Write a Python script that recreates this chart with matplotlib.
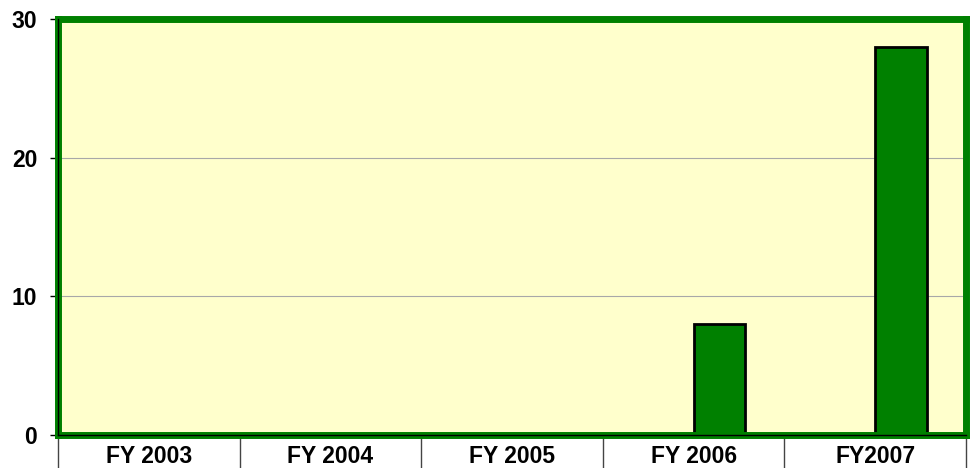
import matplotlib.pyplot as plt
from matplotlib.lines import Line2D

# categories and values
years = ["FY 2003", "FY 2004", "FY 2005", "FY 2006", "FY2007"]
series_a = [0, 0, 0, 0, 0]      # first series (empty)
series_b = [0, 0, 0, 8, 28]     # second series

plt.rcParams['font.family'] = ['Liberation Sans', 'DejaVu Sans']

fig = plt.figure(figsize=(9.71, 4.68), dpi=100)
ax = fig.add_axes([58 / 971, 1 - 435 / 468, (966 - 58) / 971, (435 - 19) / 468])
ax.set_facecolor('#FFFFCC')

# clustered bars, gap width 150% -> each bar 2/7 of category
w = 2 / 7
xs = list(range(len(years)))
ax.bar([x - w / 2 for x in xs], series_a, width=w, color='#008000', edgecolor='black', linewidth=2, zorder=3)
ax.bar([x + w / 2 for x in xs], series_b, width=w, color='#008000', edgecolor='black', linewidth=2, zorder=3)

ax.set_xlim(-0.5, len(years) - 0.5)
ax.set_ylim(0, 30)
ax.set_yticks([0, 10, 20, 30])
ax.yaxis.grid(True, color='#a8a8a8', linewidth=0.8, zorder=1)
ax.set_axisbelow(True)

# category dividers below the axis, labels centred
ax.set_xticks([x - 0.5 for x in range(len(years) + 1)])
ax.set_xticklabels([])
ax.set_xticks(xs, minor=True)
ax.set_xticklabels(years, minor=True, fontsize=16.5, fontweight='bold')
ax.tick_params(axis='x', which='major', length=24, width=1, color='#444444', direction='out')
ax.tick_params(axis='x', which='minor', length=0, pad=7)
ax.tick_params(axis='y', length=6, width=1, color='black', pad=9, labelsize=16.5)
for lab in ax.get_yticklabels():
    lab.set_fontweight('bold')

# green plot-area border
for s in ax.spines.values():
    s.set_color('#008000')
    s.set_linewidth(5)
    s.set_zorder(4)

# black axis lines on top
ax.add_line(Line2D([0, 0], [0, 1], transform=ax.transAxes, color='black', lw=1, zorder=5, clip_on=False))
ax.add_line(Line2D([0, 1], [0, 0], transform=ax.transAxes, color='black', lw=1, zorder=5, clip_on=False))

fig.savefig('out.png', dpi=100)
